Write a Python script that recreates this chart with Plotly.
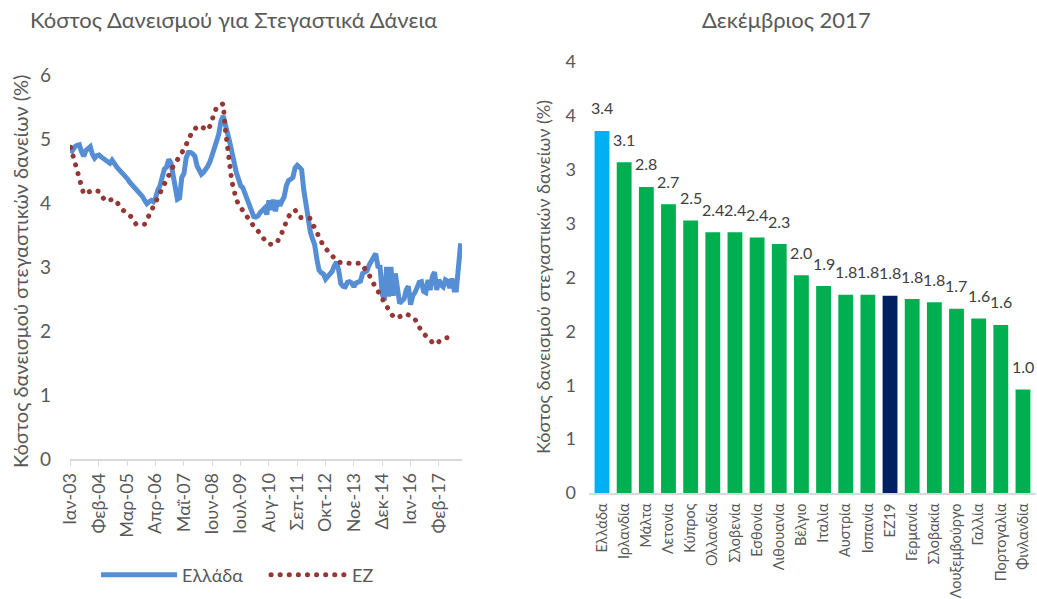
import plotly.graph_objects as go

MONTHS = ["Ιαν", "Φεβ", "Μαρ", "Απρ", "Μαΐ", "Ιουν", "Ιουλ", "Αυγ", "Σεπ", "Οκτ", "Νοε", "Δεκ"]
dates = [f"{m}-{y:02d}" for y in range(3, 18) for m in MONTHS]  # Ιαν-03 .. Δεκ-17
tick_dates = dates[::13]

# Greece, monthly, Jan-03 .. Dec-17
greece = [
    4.78, 4.84, 4.88, 4.90, 4.91, 4.80, 4.73, 4.82, 4.85, 4.88, 4.76, 4.70,
    4.74, 4.75, 4.72, 4.69, 4.66, 4.64, 4.62, 4.67, 4.60, 4.57, 4.53, 4.49,
    4.47, 4.44, 4.38, 4.33, 4.29, 4.26, 4.23, 4.20, 4.16, 4.10, 4.04, 3.99,
    4.02, 4.04, 4.02, 4.08, 4.20, 4.27, 4.40, 4.53, 4.56, 4.68, 4.63, 4.45,
    4.20, 4.06, 4.08, 4.40, 4.46, 4.70, 4.79, 4.79, 4.77, 4.73, 4.58, 4.50,
    4.45, 4.48, 4.52, 4.58, 4.65, 4.78, 4.90, 4.97, 5.08, 5.28, 5.36, 5.24,
    5.10, 4.95, 4.80, 4.60, 4.48, 4.38, 4.27, 4.24, 4.14, 4.05, 3.95, 3.85,
    3.79, 3.78, 3.80, 3.85, 3.90, 3.92, 3.82, 4.04, 3.89, 4.05, 3.87, 4.04,
    3.96, 4.02, 4.10, 4.27, 4.35, 4.37, 4.40, 4.55, 4.59, 4.56, 4.52, 4.20,
    3.95, 3.80, 3.55, 3.44, 3.35, 3.12, 2.95, 2.91, 2.89, 2.81, 2.85, 2.90,
    2.93, 3.02, 3.08, 2.95, 2.74, 2.70, 2.69, 2.76, 2.77, 2.75, 2.69, 2.75,
    2.76, 2.78, 2.90, 2.92, 2.94, 3.03, 3.08, 3.13, 3.21, 3.01, 3.00, 2.58,
    2.48, 3.00, 2.54, 3.00, 2.55, 2.90, 2.62, 2.43, 2.47, 2.50, 2.64, 2.70,
    2.41, 2.55, 2.60, 2.70, 2.76, 2.77, 2.62, 2.60, 2.80, 2.64, 2.85, 2.92,
    2.64, 2.80, 2.72, 2.69, 2.80, 2.78, 2.67, 2.82, 2.64, 2.64, 3.10, 3.37,
]

# Euro area, monthly, Jan-03 .. Sep-17
ez = [
    4.87, 4.75, 4.60, 4.50, 4.38, 4.25, 4.14, 4.15, 4.17, 4.19, 4.20, 4.20,
    4.19, 4.18, 4.12, 4.06, 4.03, 4.04, 4.05, 4.06, 4.06, 4.02, 3.97, 3.92,
    3.89, 3.86, 3.84, 3.82, 3.78, 3.72, 3.67, 3.66, 3.66, 3.67, 3.67, 3.74,
    3.81, 3.88, 3.95, 4.01, 4.08, 4.17, 4.26, 4.33, 4.39, 4.45, 4.52, 4.57,
    4.62, 4.67, 4.72, 4.77, 4.84, 4.91, 4.99, 5.08, 5.13, 5.16, 5.19, 5.21,
    5.19, 5.17, 5.15, 5.14, 5.21, 5.30, 5.42, 5.50, 5.52, 5.54, 5.55, 5.15,
    4.80, 4.60, 4.33, 4.15, 4.06, 3.98, 3.93, 3.87, 3.82, 3.77, 3.72, 3.67,
    3.63, 3.59, 3.56, 3.51, 3.46, 3.41, 3.38, 3.36, 3.35, 3.35, 3.37, 3.40,
    3.48, 3.54, 3.60, 3.73, 3.80, 3.84, 3.87, 3.89, 3.84, 3.78, 3.77, 3.77,
    3.77, 3.76, 3.76, 3.68, 3.61, 3.52, 3.44, 3.39, 3.33, 3.29, 3.25, 3.20,
    3.16, 3.13, 3.10, 3.08, 3.06, 3.06, 3.06, 3.06, 3.06, 3.06, 3.06, 3.07,
    3.07, 3.06, 3.02, 2.98, 2.94, 2.88, 2.80, 2.74, 2.68, 2.63, 2.57, 2.50,
    2.44, 2.37, 2.31, 2.27, 2.23, 2.20, 2.21, 2.23, 2.25, 2.27, 2.27, 2.25,
    2.23, 2.21, 2.19, 2.12, 2.05, 2.00, 1.96, 1.92, 1.88, 1.84, 1.81, 1.79,
    1.81, 1.84, 1.86, 1.88, 1.89, 1.90, 1.90, 1.91, 1.91,
]

countries = [
    "Ελλάδα", "Ιρλανδία", "Μάλτα", "Λετονία", "Κύπρος", "Ολλανδία", "Σλοβενία",
    "Εσθονία", "Λιθουανία", "Βέλγιο", "Ιταλία", "Αυστρία", "Ισπανία", "EZ19",
    "Γερμανία", "Σλοβακία", "Λουξεμβούργο", "Γαλλία", "Πορτογαλία", "Φινλανδία",
]
dec17 = [3.36, 3.07, 2.84, 2.68, 2.53, 2.42, 2.42, 2.37, 2.31, 2.02,
         1.92, 1.84, 1.84, 1.83, 1.80, 1.77, 1.71, 1.62, 1.56, 0.96]

bar_y_ticks = [0, 0.5, 1, 1.5, 2, 2.5, 3, 3.5, 4]
bar_y_labels = ["0", "1", "1", "2", "2", "3", "3", "4", "4"]

GREY = "#595959"
FONT = "Lato, Open Sans, sans-serif"
W, H = 1037, 599

bar_colors = []
for c in countries:
    if c == "Ελλάδα":
        bar_colors.append("#00B0F0")
    elif c == "EZ19":
        bar_colors.append("#002060")
    else:
        bar_colors.append("#00B050")

fig = go.Figure()

fig.add_trace(go.Scatter(
    x=dates, y=greece, name="Ελλάδα", mode="lines",
    line=dict(color="#558ED5", width=5),
    xaxis="x", yaxis="y",
))
fig.add_trace(go.Scatter(
    x=dates[:len(ez)], y=ez, name="EZ", mode="lines",
    line=dict(color="#953735", width=5, dash="5px,4px"),
    xaxis="x", yaxis="y",
))

fig.add_trace(go.Bar(
    x=countries, y=dec17, marker=dict(color=bar_colors, line=dict(width=0)),
    showlegend=False, xaxis="x2", yaxis="y2",
))


def px_ann(text, x, y, size, anchor="center", angle=0):
    return dict(text=text, x=x / W, y=1 - y / H, xref="paper", yref="paper",
                xanchor=anchor, yanchor="middle", textangle=angle,
                showarrow=False, font=dict(size=size, color=GREY))


annotations = [
    px_ann("Κόστος Δανεισμού για Στεγαστικά Δάνεια", 28, 20, 22, "left"),
    px_ann("Δεκέμβριος 2017", 786, 20, 22),
    px_ann("Κόστος δανεισμού στεγαστικών δανείων (%)", 20, 272, 20, angle=-90),
    px_ann("Κόστος δανεισμού στεγαστικών δανείων (%)", 543, 277, 18, angle=-90),
]
# value labels, sitting a little above each bar
for c, v in zip(countries, dec17):
    annotations.append(dict(
        x=c, y=v, xref="x2", yref="y2", text=f"{v:.1f}", showarrow=False,
        yanchor="middle", yshift=23, font=dict(size=16, color="#404040"),
    ))

fig.update_layout(
    width=W, height=H,
    margin=dict(l=0, r=0, t=0, b=0, autoexpand=False),
    paper_bgcolor="white", plot_bgcolor="white",
    font=dict(family=FONT, color=GREY),
    xaxis=dict(
        domain=[0.0675, 0.4455], type="category", categoryarray=dates,
        range=[-0.3, 179.6], tickvals=tick_dates, tickangle=-90,
        tickfont=dict(family=FONT, size=18, color=GREY), showgrid=False,
        showline=True, linecolor="#D9D9D9", linewidth=1.5, ticks="outside",
        tickcolor="#D9D9D9", ticklen=5, automargin=False,
    ),
    yaxis=dict(
        domain=[0.2337, 0.8748], range=[0, 6], dtick=1,
        tickfont=dict(family=FONT, size=19, color=GREY),
        showgrid=False, zeroline=False, ticklabelstandoff=18, automargin=False,
    ),
    xaxis2=dict(
        domain=[0.568, 0.999], anchor="y2", tickangle=-90,
        tickfont=dict(family=FONT, size=14.5, color=GREY), automargin=False,
        showgrid=False, showline=True, linecolor="#D9D9D9", linewidth=1.5,
        ticklabelstandoff=3,
    ),
    yaxis2=dict(
        domain=[0.177, 0.8965], anchor="x2", range=[0, 4],
        tickvals=bar_y_ticks, ticktext=bar_y_labels, automargin=False,
        tickfont=dict(family=FONT, size=18, color=GREY),
        showgrid=False, zeroline=False, ticklabelstandoff=12,
    ),
    bargap=0.33,
    legend=dict(
        orientation="h", x=0.0926, y=0.04, xanchor="left", yanchor="middle",
        font=dict(family=FONT, size=18, color=GREY), itemwidth=76,
        entrywidth=79,
    ),
    annotations=annotations,
)

# no page margin, and round dots for the euro-area line like the original
post = """
document.body.style.margin = '0';
document.querySelectorAll('path').forEach(function(p){
  if ((p.style.strokeDasharray || '').indexOf('4px') >= 0) {
    p.style.strokeLinecap = 'round';
    p.style.strokeDasharray = '0.1px, 9px';
  }
});
"""

fig.write_html("out.html", post_script=post, config={"displayModeBar": False})
